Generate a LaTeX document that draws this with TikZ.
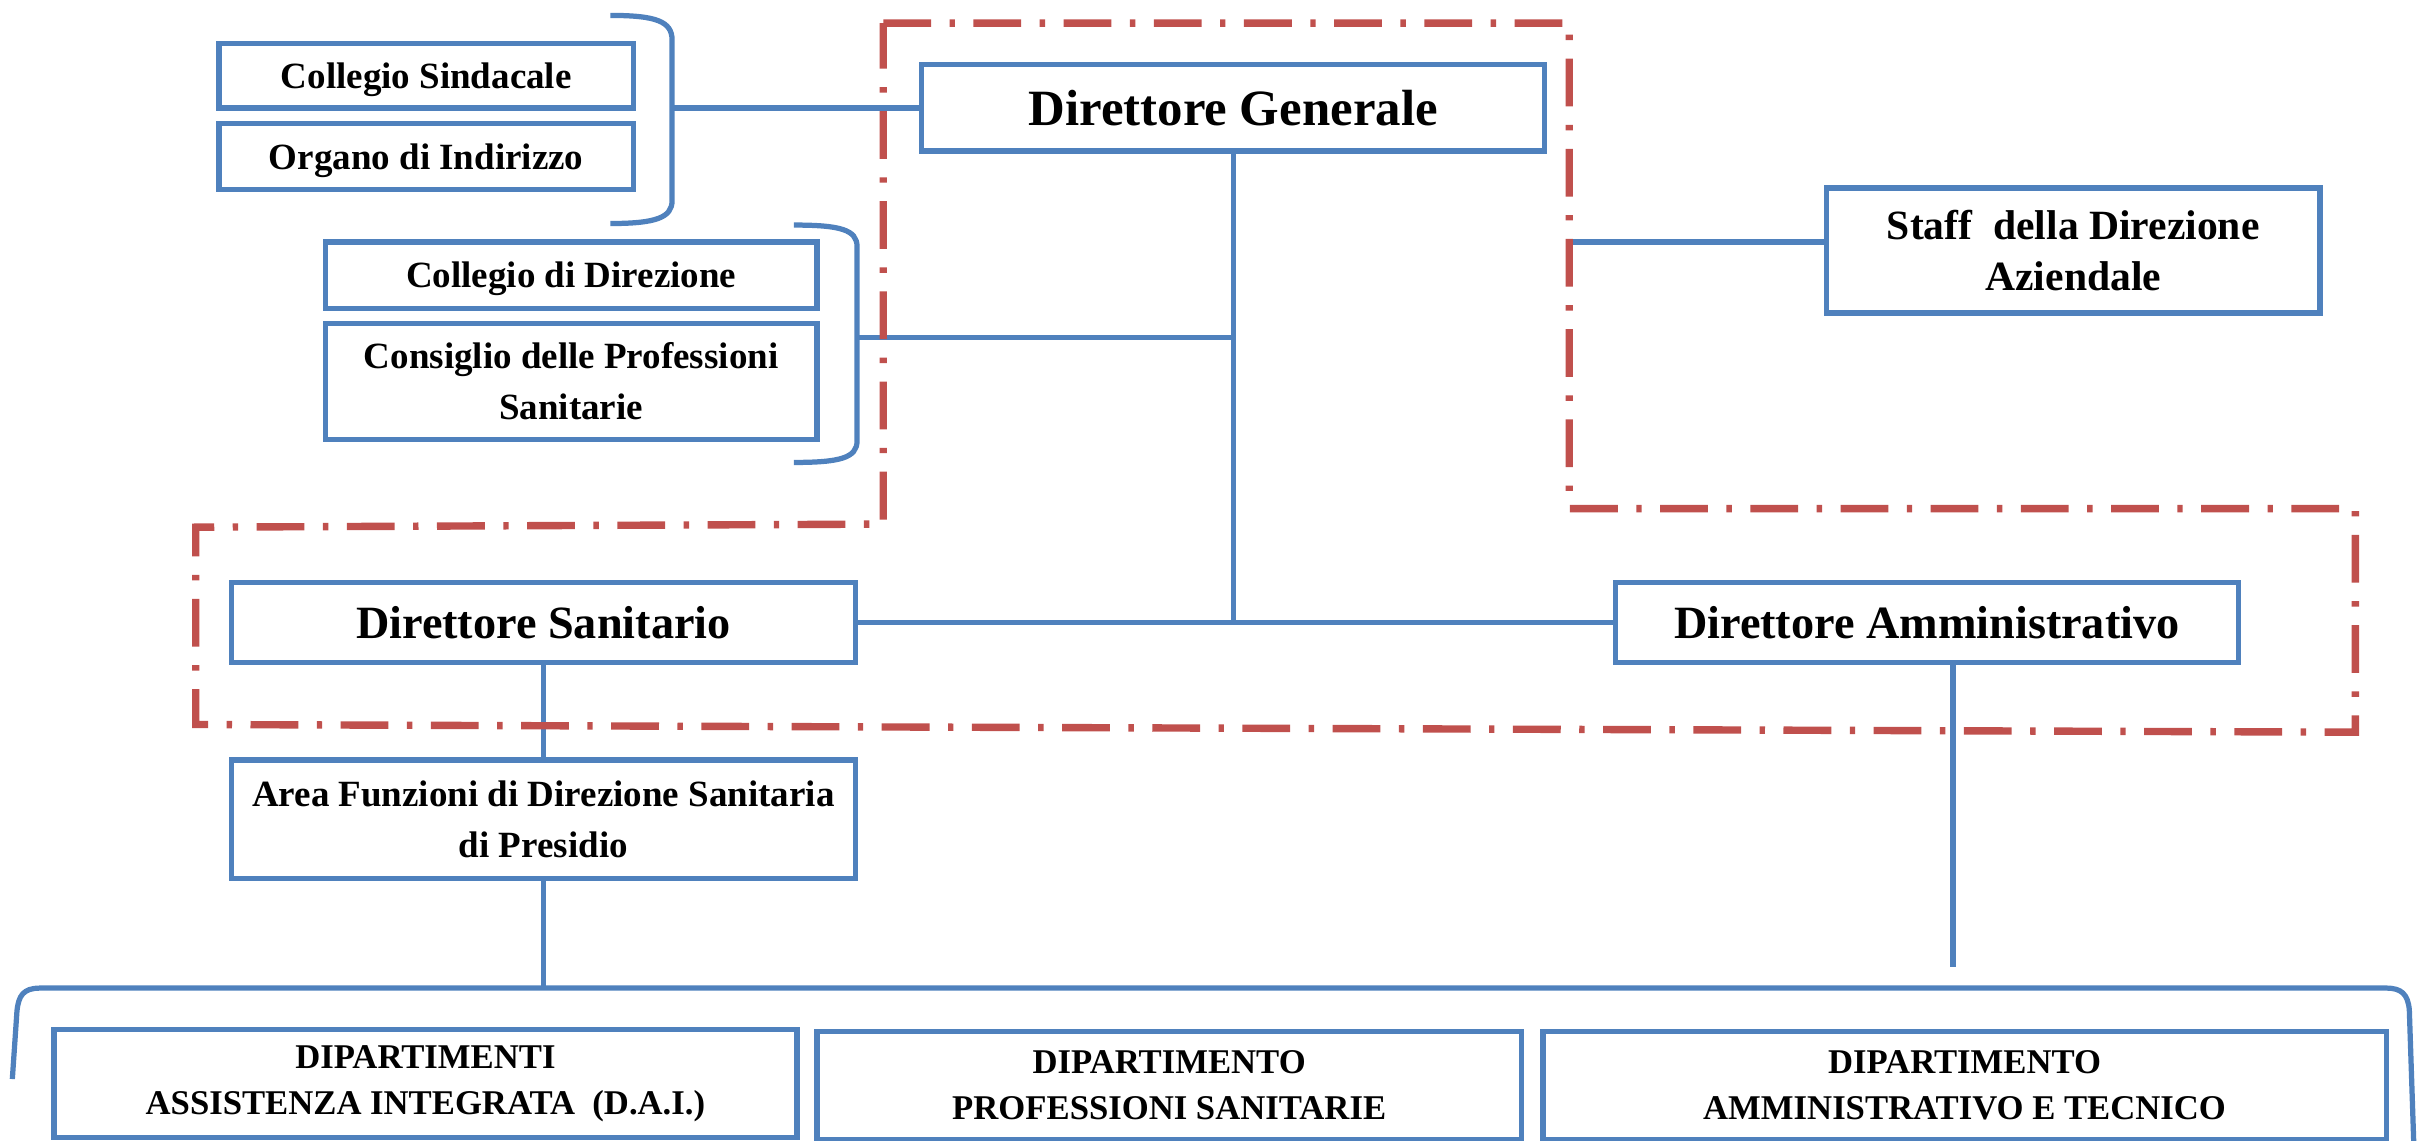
\documentclass[tikz,border=0pt]{standalone}
\usepackage{fontspec}
\setmainfont{Liberation Serif}
\definecolor{myblue}{RGB}{79,129,189}
\definecolor{myred}{RGB}{192,80,77}
\tikzset{
  box/.style={draw=myblue, line width=3.4pt, fill=white, align=center, inner sep=0pt},
  one/.style={text depth=0pt},
  conn/.style={draw=myblue, line width=3.4pt},
  dashdot/.style={draw=myred, line width=4.8pt, dash pattern=on 31pt off 12pt on 3.5pt off 12pt},
  fbig/.style={font=\bfseries\fontsize{33}{40}\selectfont},
  fmid/.style={font=\bfseries\fontsize{30}{36}\selectfont},
  fsmall/.style={font=\bfseries\fontsize{24}{33}\selectfont},
  fstaff/.style={font=\bfseries\fontsize{27}{33}\selectfont},
  fdep/.style={font=\bfseries\fontsize{22.5}{29.5}\selectfont},
}
\begin{document}
\begin{tikzpicture}[x=1pt,y=-1pt]
\useasboundingbox (0,0) rectangle (1568,740);

% connector end points
\coordinate (b1) at (436,70);
\coordinate (b2) at (556,219);
\coordinate (st) at (1018,157);
\coordinate (bb) at (352.5,641);
\coordinate (dae) at (1267,627);

% nodes
\node[box, one, fbig, minimum width=404pt, minimum height=56pt] (dg) at (800,70) {Direttore Generale};
\node[box, one, fsmall, minimum width=269pt, minimum height=42pt] (cs) at (276.5,49) {Collegio Sindacale};
\node[box, one, fsmall, minimum width=269pt, minimum height=43pt] (oi) at (276.5,101.5) {Organo di Indirizzo};
\node[box, one, fsmall, minimum width=319pt, minimum height=43pt] (cd) at (370.5,178.5) {Collegio di Direzione};
\node[box, fsmall, minimum width=319pt, minimum height=75pt] (cp) at (370.5,247.5) {Consiglio delle Professioni\\Sanitarie};
\node[box, fstaff, minimum width=320pt, minimum height=81pt] (staff) at (1345,162.5) {Staff~ della Direzione\\Aziendale};
\node[box, one, fmid, minimum width=405pt, minimum height=52pt] (ds) at (352.5,404) {Direttore Sanitario};
\node[box, one, fmid, minimum width=404pt, minimum height=52pt] (da) at (1250,404) {Direttore Amministrativo};
\node[box, fsmall, minimum width=405pt, minimum height=77pt] (af) at (352.5,531.5) {Area Funzioni di Direzione Sanitaria\\di Presidio};
\node[box, fdep, minimum width=482pt, minimum height=70pt] (dai) at (276,703) {DIPARTIMENTI\\ASSISTENZA INTEGRATA~ (D.A.I.)};
\node[box, fdep, minimum width=457pt, minimum height=70pt] (dps) at (758.5,704) {DIPARTIMENTO\\PROFESSIONI SANITARIE};
\node[box, fdep, minimum width=547pt, minimum height=70pt] (dat) at (1274.5,704) {DIPARTIMENTO\\AMMINISTRATIVO E TECNICO};

% brackets
\draw[conn] (396,10) .. controls (426,10) and (436,14) .. (436,26) -- (436,130) .. controls (436,141) and (426,145) .. (396,145);
\draw[conn] (515,146) .. controls (545,146) and (556,149) .. (556,160) -- (556,286) .. controls (556,297) and (545,300) .. (515,300);
\draw[conn] (8,700) -- (11,656) .. controls (12,646) and (15,641) .. (26,641) -- (1548,641) .. controls (1558,641) and (1562,645) .. (1563,655) -- (1566,745);

% connecting lines
\draw[conn] (b1) -- (dg.west |- b1);
\draw[conn] (dg.south) -- (dg.south |- ds.east);
\draw[conn] (b2) -- (b2 -| dg.south);
\draw[conn] (ds.east) -- (da.west);
\draw[conn] (st) -- (st -| staff.west);
\draw[conn] (ds.south) -- (af.north);
\draw[conn] (af.south) -- (bb);
\draw[conn] (dae |- da.south) -- (dae);

% red dash-dot frame
\draw[dashdot] (573,15) -- (1018,15) -- (1018,330) -- (1528,330) -- (1528,475) -- (127,470) -- (127,342) -- (573,340) -- cycle;
\end{tikzpicture}
\end{document}
